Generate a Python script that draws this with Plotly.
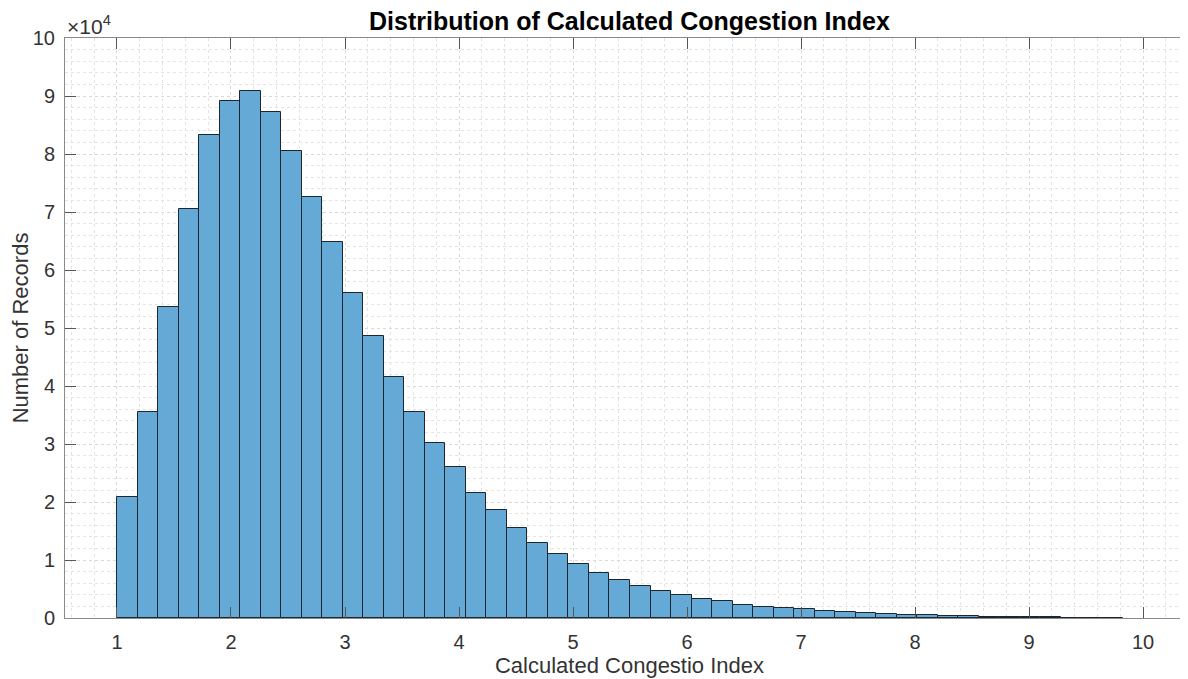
import plotly.graph_objects as go

# histogram bins (MATLAB-style auto binning)
bin_start = 1.0
bin_width = 0.18

# counts per bin
counts = [20900, 35600, 53700, 70600, 83200, 89200, 90900, 87200, 80600, 72600,
          64800, 56000, 48600, 41550, 35500, 30200, 26000, 21500, 18700, 15600,
          13000, 11000, 9300, 7700, 6550, 5450, 4700, 3900, 3300, 2850,
          2250, 1950, 1650, 1500, 1200, 1000, 800, 750, 600, 500,
          400, 300, 250, 230, 200, 100, 80, 60, 40]

x_ticks = [1, 2, 3, 4, 5, 6, 7, 8, 9, 10]
y_ticks = [0, 10000, 20000, 30000, 40000, 50000, 60000, 70000, 80000, 90000, 100000]
y_ticktext = ["0", "1", "2", "3", "4", "5", "6", "7", "8", "9", "10"]

centers = [bin_start + bin_width * (i + 0.5) for i in range(len(counts))]

font_family = "Liberation Sans, Arial, Helvetica, sans-serif"
grid_major = "#d9d9d9"
grid_minor = "#e4e4e4"

fig = go.Figure(
    go.Bar(
        x=centers,
        y=counts,
        width=bin_width,
        marker=dict(color="#65a9d6", line=dict(color="#1c2630", width=1)),
        hoverinfo="x+y",
    )
)

# the page body has an 8px margin, so the figure is sized/offset for that;
# the right edge of the axes runs a little past the window like the original
fig.update_layout(
    width=1186,
    height=671,
    margin=dict(l=57, r=0, t=30, b=61),
    paper_bgcolor="white",
    plot_bgcolor="white",
    bargap=0,
    showlegend=False,
    font=dict(family=font_family, color="#262626"),
    title=dict(
        text="<b>Distribution of Calculated Congestion Index</b>",
        font=dict(size=25, color="black", family=font_family),
        x=0.5,
        xanchor="center",
        xref="paper",
        y=1 - 13 / 671,
        yanchor="middle",
        yref="container",
    ),
)

fig.update_xaxes(
    range=[0.544, 10.447],
    tickvals=x_ticks,
    ticks="inside",
    ticklen=11,
    tickcolor="#555555",
    tickwidth=1,
    showline=True,
    linecolor="#8a8a8a",
    linewidth=1,
    mirror="ticks",
    showgrid=True,
    gridcolor=grid_major,
    griddash="dot",
    zeroline=False,
    minor=dict(dtick=0.2, showgrid=True, gridcolor=grid_minor, griddash="dot"),
    tickfont=dict(size=20, color="#333333"),
    ticklabelstandoff=6,
    title=dict(text="Calculated Congestio Index", font=dict(size=22, color="#333333"), standoff=4),
)

fig.update_yaxes(
    range=[0, 100000],
    tickvals=y_ticks,
    ticktext=y_ticktext,
    ticks="inside",
    ticklen=11,
    tickcolor="#555555",
    tickwidth=1,
    showline=True,
    linecolor="#8a8a8a",
    linewidth=1,
    mirror="ticks",
    showgrid=True,
    gridcolor=grid_major,
    griddash="dot",
    zeroline=False,
    minor=dict(dtick=2000, showgrid=True, gridcolor=grid_minor, griddash="dot"),
    tickfont=dict(size=20, color="#333333"),
    ticklabelstandoff=5,
    title=dict(text="Number of Records", font=dict(size=22, color="#333333"), standoff=4),
)

# MATLAB-style exponent label above the y axis
fig.add_annotation(
    text="\u00d710<sup>4</sup>",
    xref="paper", yref="paper",
    x=0, y=1,
    xanchor="left", yanchor="bottom",
    showarrow=False,
    font=dict(size=21, color="#333333"),
    yshift=-2,
)

fig.write_html("out.html")
